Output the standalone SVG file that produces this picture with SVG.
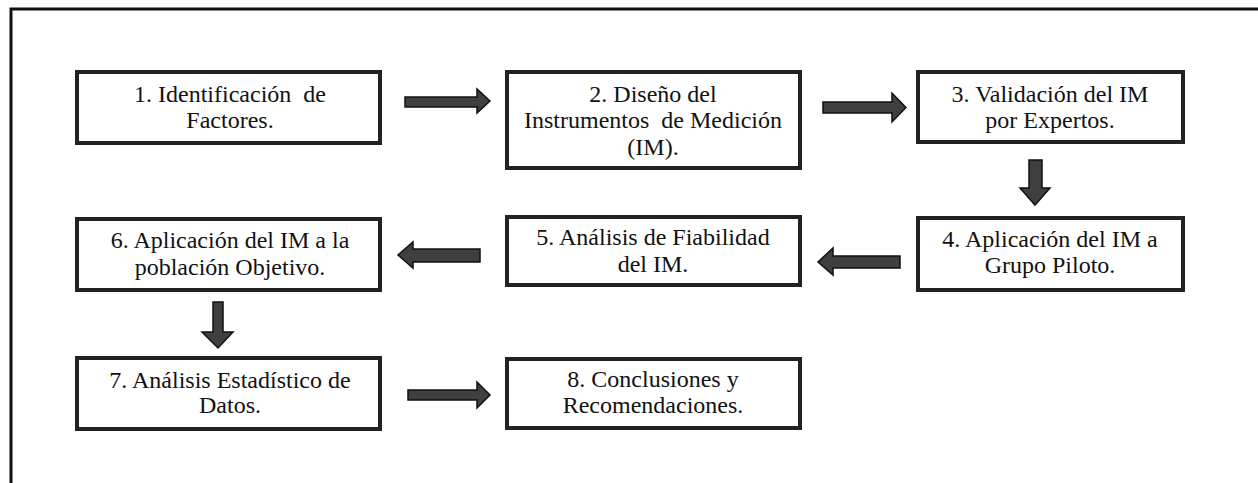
<svg xmlns="http://www.w3.org/2000/svg" width="1258" height="483" viewBox="0 0 1258 483">
<style>
.box{fill:#fff;stroke:#222;stroke-width:4}
.t{font-size:24px;fill:#111;text-anchor:middle}
.arr{fill:#3f3f3f;stroke:#111;stroke-width:1.5;stroke-linejoin:miter}
.frame{fill:none;stroke:#111;stroke-width:3}
</style>
<rect width="1258" height="483" fill="#fff"/>
<path class="frame" d="M11 483 V9 H1258"/>
<g id="connectors">
<polygon class="arr" points="405,97 477,97 477,89 490,101 477,113 477,107 405,107"/>
<polygon class="arr" points="823,102 892,102 892,93 906,107.5 892,122 892,113 823,113"/>
<polygon class="arr" points="1029,160 1042,160 1042,188 1050,188 1035,205 1020,188 1029,188"/>
<polygon class="arr" points="900,256 833,256 833,248 818,262 833,275 833,268 900,268"/>
<polygon class="arr" points="480,249 413,249 413,242 398,255 413,268 413,262 480,262"/>
<polygon class="arr" points="213,302 223,302 223,332 233,332 218,348 202,332 213,332"/>
<polygon class="arr" points="408,390 477,390 477,382 490,395 477,408 477,400 408,400"/>
</g>
<g font-family="'Liberation Serif', 'DejaVu Serif', serif">
<g id="n1"><rect class="box" x="77" y="72" width="303" height="71"/>
<text class="t" x="230" y="102" xml:space="preserve">1. Identificación  de</text><text class="t" x="230" y="128">Factores.</text></g>
<g id="n2"><rect class="box" x="507" y="72" width="293" height="96"/>
<text class="t" x="653" y="102">2. Diseño del</text><text class="t" x="653" y="128" xml:space="preserve">Instrumentos  de Medición</text><text class="t" x="653" y="155">(IM).</text></g>
<g id="n3"><rect class="box" x="918" y="72" width="265" height="70"/>
<text class="t" x="1050" y="102">3. Validación del IM</text><text class="t" x="1050" y="128">por Expertos.</text></g>
<g id="n4"><rect class="box" x="918" y="218" width="265" height="72"/>
<text class="t" x="1050" y="247">4. Aplicación del IM a</text><text class="t" x="1050" y="273">Grupo Piloto.</text></g>
<g id="n5"><rect class="box" x="507" y="217" width="293" height="68"/>
<text class="t" x="653" y="245">5. Análisis de Fiabilidad</text><text class="t" x="653" y="272">del IM.</text></g>
<g id="n6"><rect class="box" x="77" y="219" width="303" height="71"/>
<text class="t" x="230" y="248">6. Aplicación del IM a la</text><text class="t" x="230" y="275">población Objetivo.</text></g>
<g id="n7"><rect class="box" x="77" y="358" width="303" height="71"/>
<text class="t" x="230" y="388">7. Análisis Estadístico de</text><text class="t" x="230" y="413">Datos.</text></g>
<g id="n8"><rect class="box" x="507" y="359" width="293" height="69"/>
<text class="t" x="653" y="387">8. Conclusiones y</text><text class="t" x="653" y="413">Recomendaciones.</text></g>
</g>
</svg>
